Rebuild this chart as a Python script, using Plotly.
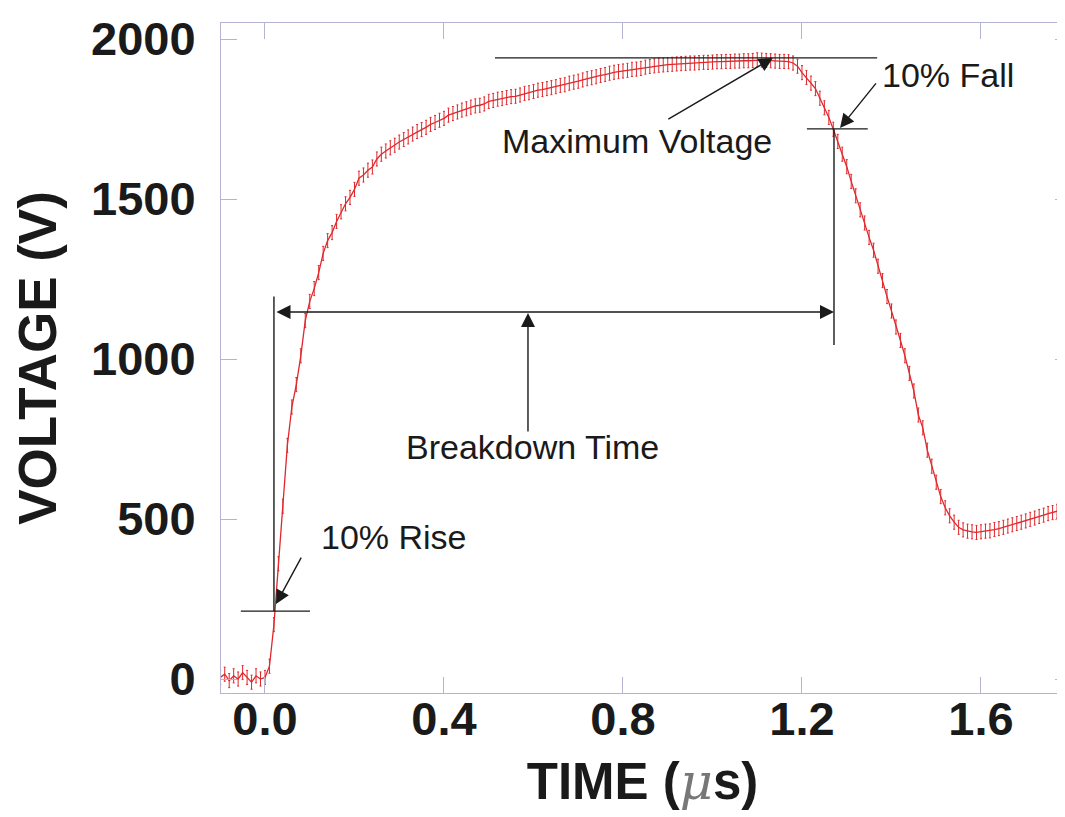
import plotly.graph_objects as go

# ---- data (time in microseconds, voltage in V) ----
time_us = [round(-0.10 + 0.01 * i, 2) for i in range(189)]
voltage_v = [
    5, 15, -5, 10, 0, 20, 5, -10, 10, 0, 5,            # -0.10 .. 0.00
    40, 170, 360, 540, 730, 850, 920, 1010, 1120, 1180,  # 0.01 .. 0.10
    1220, 1270, 1330, 1370, 1395, 1430, 1460, 1485, 1505, 1530,  # 0.11 .. 0.20
    1565, 1575, 1590, 1600, 1625, 1640, 1650, 1660, 1668, 1678,  # 0.21 .. 0.30
    1686, 1694, 1703, 1711, 1717, 1724, 1733, 1739, 1746, 1752,  # 0.31 .. 0.40
    1762, 1767, 1772, 1778, 1782, 1787, 1791, 1793, 1797, 1805,  # 0.41 .. 0.50
    1808, 1812, 1814, 1817, 1820, 1821, 1825, 1830, 1832, 1836,  # 0.51 .. 0.60
    1840, 1842, 1845, 1848, 1851, 1855, 1857, 1862, 1865, 1868,  # 0.61 .. 0.70
    1872, 1876, 1879, 1882, 1886, 1889, 1893, 1896, 1898, 1900,  # 0.71 .. 0.80
    1902, 1905, 1906, 1908, 1912, 1914, 1916, 1918, 1919, 1920,  # 0.81 .. 0.90
    1921, 1922, 1923, 1924, 1925, 1925, 1926, 1927, 1927, 1928,  # 0.91 .. 1.00
    1929, 1929, 1930, 1930, 1931, 1931, 1932, 1932, 1933, 1935,  # 1.01 .. 1.10
    1934, 1933, 1932, 1931, 1930, 1930, 1929, 1925, 1915, 1895,  # 1.11 .. 1.20
    1880, 1862, 1845, 1815, 1785, 1755, 1718, 1680, 1640, 1601,  # 1.21 .. 1.30
    1555, 1510, 1466, 1425, 1380, 1340, 1290, 1245, 1195, 1150,  # 1.31 .. 1.40
    1100, 1058, 1010, 955, 900, 825, 785, 715, 665, 615,        # 1.41 .. 1.50
    570, 535, 510, 490, 474, 466, 462, 460, 458, 460,          # 1.51 .. 1.60
    462, 463, 467, 470, 474, 478, 482, 486, 490, 494,          # 1.61 .. 1.70
    499, 503, 508, 512, 517, 520, 524, 528,                    # 1.71 .. 1.78
]
noise_v = 22  # half-height of the vertical sample marks

x_ticks = [0.0, 0.4, 0.8, 1.2, 1.6]
x_tick_labels = ["0.0", "0.4", "0.8", "1.2", "1.6"]
y_ticks = [0, 500, 1000, 1500, 2000]
y_tick_labels = ["0", "500", "1000", "1500", "2000"]

# annotation geometry (data coordinates)
max_voltage = 1941
fall_level = 1719
rise_level = 212
fall_time = 1.2715
rise_time = 0.020
breakdown_level = 1147

FONT = "Liberation Sans, Arial, sans-serif"
FRAME = "#b4b4d2"
INK = "#1a1a1a"

fig = go.Figure()
fig.add_trace(go.Scatter(
    x=time_us, y=voltage_v, mode="lines",
    line=dict(color="#e0282c", width=1.3),
    error_y=dict(type="constant", value=noise_v, color="#e0282c",
                 thickness=1, width=1),
    hoverinfo="skip", showlegend=False,
))
fig.add_trace(go.Scatter(x=[None], y=[None], yaxis="y2",
                         showlegend=False, hoverinfo="skip"))

line_style = dict(color=INK, width=1.4)
shapes = [
    dict(type="line", x0=0.514, x1=1.368, y0=max_voltage, y1=max_voltage),
    dict(type="line", x0=1.211, x1=1.347, y0=fall_level, y1=fall_level),
    dict(type="line", x0=fall_time, x1=fall_time, y0=fall_level, y1=1044),
    dict(type="line", x0=-0.054, x1=0.1006, y0=rise_level, y1=rise_level),
    dict(type="line", x0=rise_time, x1=rise_time, y0=rise_level, y1=1195),
]
for s in shapes:
    s.update(xref="x", yref="y", line=line_style, layer="above")

arrow_common = dict(text="", showarrow=True, arrowhead=2, arrowsize=2,
                    arrowwidth=1.4, arrowcolor=INK, xref="x", yref="y",
                    axref="x", ayref="y", standoff=0)
arrows = [
    dict(x=1.135, y=1941, ax=0.898, ay=1747),   # maximum voltage
    dict(x=1.285, y=1722, ax=1.368, ay=1866),   # 10% fall
    dict(x=0.0246, y=234, ax=0.0827, ay=384),   # 10% rise
    dict(x=0.5877, y=1144, ax=0.5877, ay=769),  # breakdown time pointer
    dict(x=1.2715, y=breakdown_level, ax=0.0223, ay=breakdown_level,
         arrowside="end+start", startarrowhead=2, startarrowsize=2),
]
annotations = []
for a in arrows:
    d = dict(arrow_common)
    d.update(a)
    annotations.append(d)

label_font = dict(family=FONT, size=34, color=INK)
for txt, x, y in [("Maximum Voltage", 0.832, 1680),
                  ("10% Fall", 1.526, 1889),
                  ("10% Rise", 0.288, 444),
                  ("Breakdown Time", 0.598, 725)]:
    annotations.append(dict(text=txt, x=x, y=y, xref="x", yref="y",
                            showarrow=False, font=label_font,
                            xanchor="center", yanchor="middle"))

fig.update_layout(
    width=1057, height=809,
    margin=dict(l=213, r=1, t=15, b=124),
    paper_bgcolor="white", plot_bgcolor="white",
    showlegend=False,
    shapes=shapes, annotations=annotations,
    xaxis=dict(
        range=[-0.0983, 1.7855], tickvals=x_ticks, ticktext=x_tick_labels,
        ticks="inside", ticklen=16, tickcolor=FRAME, tickwidth=1,
        showline=True, linecolor=FRAME, linewidth=1, mirror="ticks",
        showgrid=False, zeroline=False,
        tickfont=dict(family=FONT, size=47, color=INK, weight="bold"),
        ticklabelstandoff=-15,
        title=dict(
            text="<b>TIME (</b><span style=\"font-family:'DejaVu Serif';"
                 "font-style:italic;font-weight:200;fill:#777\">μ</span><b>s)</b>",
            font=dict(family=FONT, size=51, color=INK), standoff=18),
    ),
    yaxis=dict(
        range=[-43.75, 2050], tickvals=y_ticks, ticktext=y_tick_labels,
        ticks="inside", ticklen=16, tickcolor=FRAME, tickwidth=1,
        showline=True, linecolor=FRAME, linewidth=1, mirror=False,
        showgrid=False, zeroline=False,
        tickfont=dict(family=FONT, size=47, color=INK, weight="bold"),
        ticklabelstandoff=15,
        title=dict(text="VOLTAGE (V)",
                   font=dict(family=FONT, size=53, color=INK, weight="bold"),
                   standoff=31),
    ),
    yaxis2=dict(
        range=[-43.75, 2050], overlaying="y", side="right",
        tickvals=y_ticks, ticks="inside", ticklen=9, tickcolor=FRAME,
        showticklabels=False, showline=False, showgrid=False, zeroline=False,
    ),
)

fig.write_html("out.html")
